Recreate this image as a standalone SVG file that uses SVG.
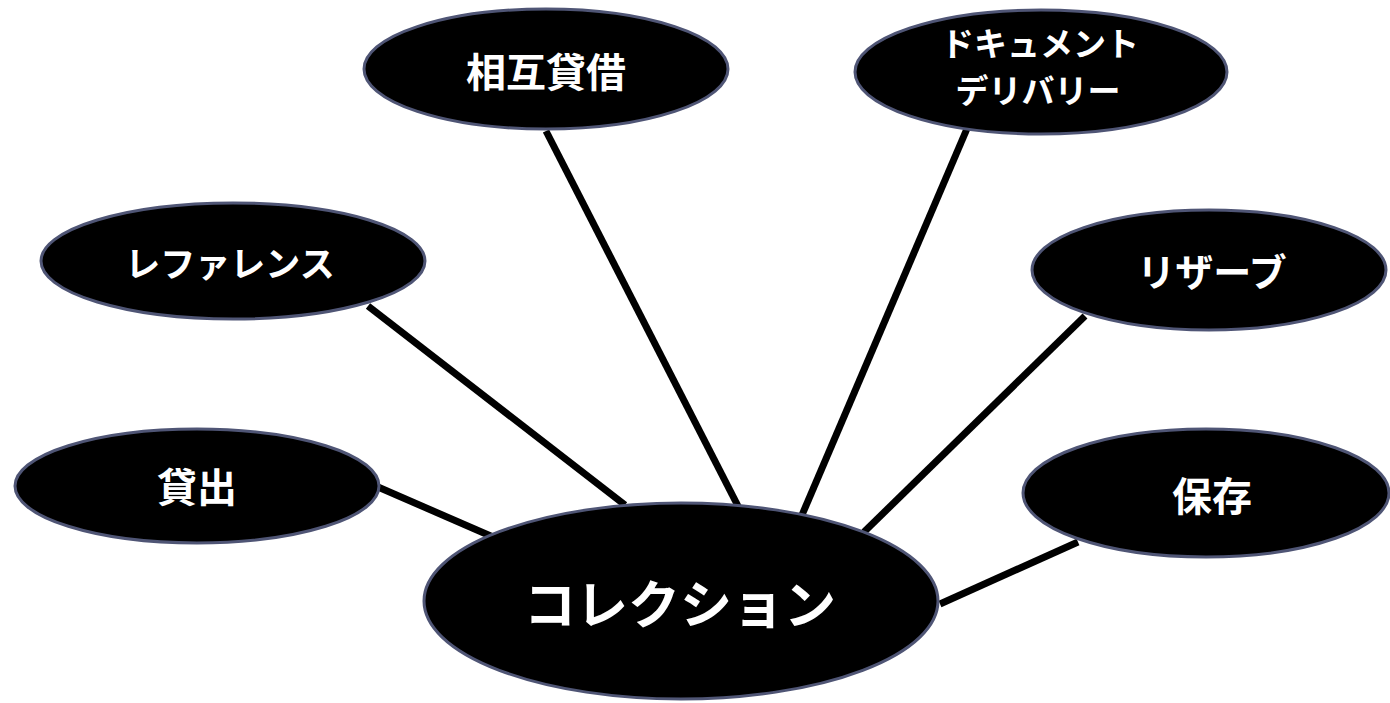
<svg xmlns="http://www.w3.org/2000/svg" width="1390" height="703" viewBox="0 0 1390 703">
<style>
.bg{fill:#ffffff}
.node ellipse{fill:#000000;stroke:#4f5575;stroke-width:3}
.node text{fill:#ffffff;font-family:"Noto Sans CJK JP","Noto Sans",sans-serif;font-weight:bold;text-anchor:middle}
.edge{stroke:#000000;stroke-width:7;fill:none}
</style>
<rect class="bg" x="0" y="0" width="1390" height="703"/>
<g id="connectors">
<line class="edge" x1="378" y1="487" x2="493" y2="537"/>
<line class="edge" x1="368" y1="306" x2="625" y2="505"/>
<line class="edge" x1="546" y1="131" x2="739" y2="508"/>
<line class="edge" x1="969" y1="124" x2="802" y2="515"/>
<line class="edge" x1="1085" y1="316" x2="864" y2="532"/>
<line class="edge" x1="1078" y1="542" x2="940" y2="604"/>
</g>
<g id="node-sogotaishaku" class="node">
<ellipse cx="546" cy="69" rx="182" ry="60"/>
<text x="546" y="87" font-size="40">相互貸借</text>
</g>
<g id="node-document-delivery" class="node">
<ellipse cx="1041" cy="72" rx="186" ry="62"/>
<text x="1040" y="56" font-size="33">ドキュメント</text>
<text x="1038" y="103" font-size="33">デリバリー</text>
</g>
<g id="node-reference" class="node">
<ellipse cx="233" cy="261" rx="192" ry="58"/>
<text x="230" y="277" font-size="35">レファレンス</text>
</g>
<g id="node-reserve" class="node">
<ellipse cx="1209" cy="270" rx="177" ry="60"/>
<text x="1212" y="286" font-size="38">リザーブ</text>
</g>
<g id="node-kashidashi" class="node">
<ellipse cx="197" cy="486" rx="182" ry="57"/>
<text x="197" y="502" font-size="40">貸出</text>
</g>
<g id="node-hozon" class="node">
<ellipse cx="1206" cy="493" rx="183" ry="64"/>
<text x="1212" y="511" font-size="40">保存</text>
</g>
<g id="node-collection" class="node">
<ellipse cx="681" cy="601" rx="257" ry="98"/>
<text x="680" y="624" font-size="52">コレクション</text>
</g>
</svg>
